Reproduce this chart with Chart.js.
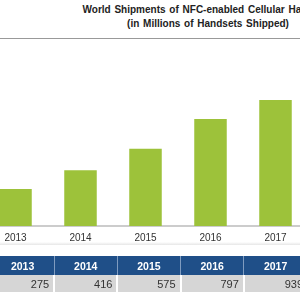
<!DOCTYPE html>
<html>
<head>
<meta charset="utf-8">
<script src="https://cdn.jsdelivr.net/npm/chart.js@4"></script>
<style>
  body { margin: 0; width: 300px; height: 300px; overflow: hidden; position: relative; background: #fff; font-family: 'Liberation Sans', Arial, sans-serif; }
  .title { position: absolute; left: 0; width: 416px; text-align: center; font-weight: bold; font-size: 10px; color: #222; white-space: nowrap; word-spacing: 1px; }
  #rule { position: absolute; left: 0; top: 38px; width: 300px; height: 1px; background: #999; }
  #wrap { position: absolute; left: -17px; top: 38px; width: 325px; height: 212px; }
  #shade { position: absolute; left: 0; top: 242px; width: 300px; height: 3px; background: linear-gradient(#fff, #e6e6e6); }
  table { position: absolute; left: -10px; top: 256px; border-collapse: collapse; table-layout: fixed; width: 317px; }
  th { background: #1f4f88; color: #fff; font-size: 10.5px; height: 19px; padding: 0; border-left: 1px solid #7f9cc0; }
  td { background: #d6d6d6; color: #333; font-size: 11px; height: 17px; padding: 0 4px 0 0; text-align: right; border-left: 2px solid #fff; }
</style>
</head>
<body>
<div class="title" style="top: 4px;">World Shipments of NFC-enabled Cellular Handsets</div>
<div class="title" style="top: 18px;">(in Millions of Handsets Shipped)</div>
<div id="rule"></div>
<div id="wrap"><canvas id="chart"></canvas></div>
<div id="shade"></div>
<table id="table"></table>
<script>
// Datos del grafico
const years = ['2013', '2014', '2015', '2016', '2017'];
const shipments = [275, 416, 575, 797, 939];

const barColor = '#9dc23a';

// Tabla bajo el grafico, construida con los mismos arrays
const renderTable = () => {
  const table = document.querySelector('#table');
  const head = years.map(y => `<th>${y}</th>`).join('');
  const row = shipments.map(v => `<td>${v}</td>`).join('');
  table.innerHTML = `<tr>${head}</tr><tr>${row}</tr>`;
}

const renderChart = () => {
  const data = {
    labels: years,
    datasets: [
      {
        data: shipments,
        backgroundColor: barColor,
        borderWidth: 0,
        categoryPercentage: 1,
        barPercentage: 0.5
      }
    ]
  };

  const config = {
    type: 'bar',
    data: data,
    options: {
      responsive: true,
      maintainAspectRatio: false,
      animation: false,
      layout: { padding: 0 },
      plugins: {
        legend: { display: false },
        tooltip: { enabled: false }
      },
      scales: {
        x: {
          grid: { display: false, drawTicks: false },
          border: { display: true, color: '#cccccc', width: 2 },
          ticks: { color: '#333', padding: 6, font: { family: "'Liberation Sans', Arial", size: 10 } }
        },
        y: {
          display: false,
          min: 0,
          max: 1400
        }
      }
    }
  };

  new Chart(document.querySelector('#chart'), config);
}

renderTable();
renderChart();
</script>
</body>
</html>
